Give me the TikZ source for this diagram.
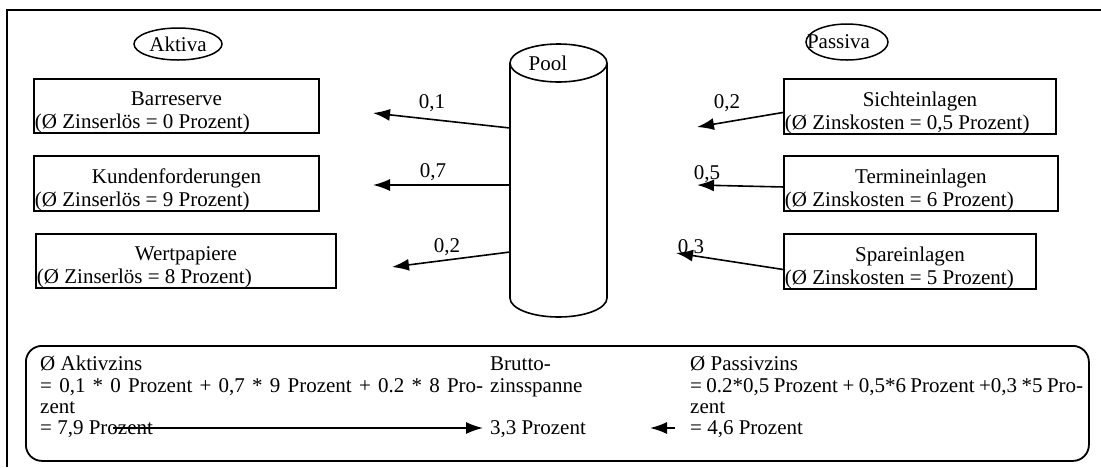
\documentclass[tikz,border=0pt]{standalone}
\usepackage{fontspec}
\setmainfont{Liberation Serif}
\usetikzlibrary{shapes.geometric,arrows.meta}

% two-line account text: centred title, detail flush left
\newcommand{\acctext}[3]{\vbox{\hsize=#1\relax\kern13pt\centerline{#2}\leftline{#3}}}

\tikzset{
  txt/.style={font=\fontsize{21}{23}\selectfont, inner sep=0pt},
  acct/.style={txt, draw, line width=1.9pt, rectangle, anchor=north west,
    inner xsep=1pt, inner ysep=0pt, minimum height=52pt},
  oval/.style={txt, draw, ellipse, line width=1.5pt, inner sep=0pt},
  flow/.style={line width=1.6pt, -{Latex[length=17pt,width=12pt]}},
  rate/.style={txt, anchor=base},
  sumline/.style={txt, anchor=base west},
  frame/.style={line width=2pt},
}

\begin{document}
\begin{tikzpicture}[x=1pt,y=-1pt]
\useasboundingbox (0,0) rectangle (1101,467);

% page frame
\draw[frame] (1101,10) -- (7,10) -- (7,467);

% headings
\node[oval, minimum width=88pt, minimum height=32pt] (aktiva) at (178,44)
  {\makebox[0pt]{Aktiva}};
\node[oval, minimum width=82pt, minimum height=36pt] (passiva) at (847,42)
  {\makebox[0pt][l]{\hspace*{-40pt}Passiva}};

% asset side
\node[acct] (bar) at (33,78)
  {\acctext{283pt}{Barreserve}{(Ø Zinserlös = 0 Prozent)}};
\node[acct] (kun) at (33,155)
  {\acctext{283pt}{Kundenforderungen}{(Ø Zinserlös = 9 Prozent)}};
\node[acct] (wert) at (35,233)
  {\acctext{298pt}{Wertpapiere}{(Ø Zinserlös = 8 Prozent)}};

% liability side
\node[acct] (sicht) at (783,78)
  {\acctext{270pt}{Sichteinlagen}{(Ø Zinskosten = 0,5 Prozent)}};
\node[acct] (termin) at (783,155)
  {\acctext{272pt}{Termineinlagen}{(Ø Zinskosten = 6 Prozent)}};
\node[acct] (spar) at (783,233)
  {\acctext{250pt}{Spareinlagen}{(Ø Zinskosten = 5 Prozent)}};

% pool cylinder
\draw[line width=1.6pt] (510,63) -- (510,298)
  arc[start angle=180, end angle=0, x radius=48.5, y radius=19] -- (607,63);
\draw[line width=1.6pt] (558.5,63) ellipse [x radius=48.5, y radius=19];
\node[txt] (pool) at (548,63) {Pool};

% outflows from the pool
\coordinate (pa) at (510,128);
\coordinate (pk) at (510,185);
\coordinate (pw) at (510,252);
\coordinate (ta) at (373,113);
\coordinate (tk) at (373,185);
\coordinate (tw) at (392,267);
\draw[flow] (pa) -- (ta);
\draw[flow] (pk) -- (tk);
\draw[flow] (pw) -- (tw);
\node[rate] (ra) at (432,108) {0,1};
\node[rate] (rk) at (433,177) {0,7};
\node[rate] (rw) at (447,252) {0,2};

% inflows into the pool
\coordinate (ts) at (697,127);
\coordinate (tt) at (697,185);
\coordinate (tp) at (676,253);
\draw[flow] ([yshift=-6pt]sicht.west) -- (ts);
\draw[flow] ([yshift=-3.5pt]termin.west) -- (tt);
\draw[flow] ([yshift=-8pt]spar.west) -- (tp);
\node[rate] (rs) at (727,108) {0,2};
\node[rate] (rt) at (707,179) {0,5};
\node[rate] (rp) at (691,253) {0,3};

% interest margin summary
\node[draw, line width=1.8pt, rounded corners=16pt, anchor=north west,
  minimum width=1063pt, minimum height=115pt, inner sep=0pt] (sum) at (25,345) {};

\node[sumline] (a1) at (40,370) {Ø Aktivzins};
\node[sumline] (a2) at (40,392)
  {\makebox[443pt][s]{= 0,1 * 0 Prozent + 0,7 * 9 Prozent + 0.2 * 8 Pro-}};
\node[sumline] (a3) at (40,413) {zent};
\node[sumline] (a4) at (40,434) {= 7,9 Prozent};

\node[sumline] (b1) at (490,370) {Brutto-};
\node[sumline] (b2) at (490,392) {zinsspanne};
\node[sumline] (b4) at (490,434) {3,3 Prozent};

\node[sumline] (c1) at (690,370) {Ø Passivzins};
\node[sumline] (c2) at (690,392)
  {\makebox[393pt][s]{= 0.2*0,5 Prozent + 0,5*6 Prozent +0,3 *5 Pro-}};
\node[sumline] (c3) at (690,413) {zent};
\node[sumline] (c4) at (690,434) {= 4,6 Prozent};

\draw[flow] ([xshift=-40pt,yshift=6pt]a4.base east) -- ([xshift=-7pt,yshift=6pt]b4.base west);
\draw[flow] ([xshift=-15pt,yshift=6pt]c4.base west) -- ([xshift=-40pt,yshift=6pt]c4.base west);
\end{tikzpicture}
\end{document}
